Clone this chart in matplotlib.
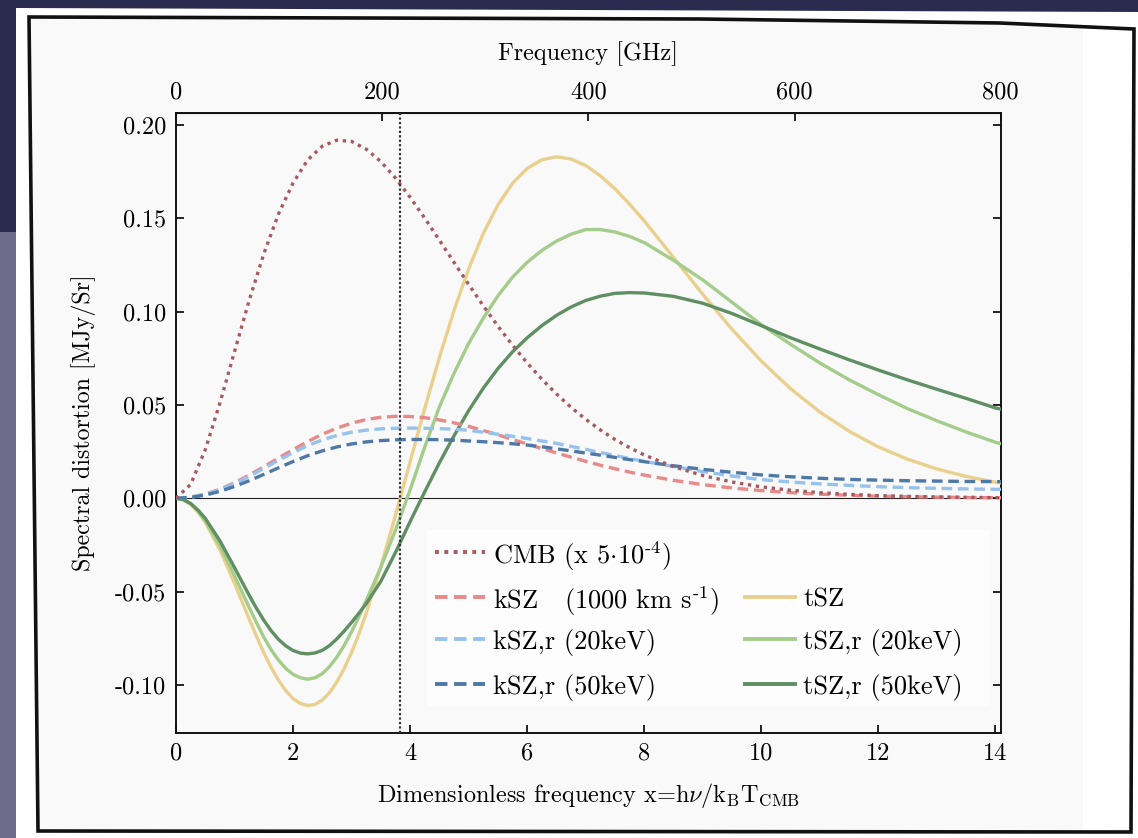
import numpy as np
import matplotlib
matplotlib.use("Agg")
import matplotlib.pyplot as plt
from matplotlib.patches import Polygon, Rectangle
from matplotlib.lines import Line2D

plt.rcParams['font.family'] = 'serif'
plt.rcParams['font.serif'] = ['cmr10']
plt.rcParams['mathtext.fontset'] = 'cm'
plt.rcParams['axes.unicode_minus'] = False
plt.rcParams['axes.formatter.use_mathtext'] = True

# ---------------- data ----------------
x = [0, 0.25, 0.5, 0.75, 1, 1.25, 1.5, 1.75, 2, 2.25, 2.5, 2.75, 3, 3.25, 3.5, 3.75,
     4, 4.25, 4.5, 4.75, 5, 5.25, 5.5, 5.75, 6, 6.25, 6.5, 6.75, 7, 7.25, 7.5, 7.75,
     8, 8.5, 9, 9.5, 10, 10.5, 11, 11.5, 12, 12.5, 13, 13.5, 14, 14.1]

cmb = [0, 0.0074, 0.0260, 0.0510, 0.0786, 0.1060, 0.1310, 0.1523, 0.1690, 0.1813, 0.1887, 0.1919,
       0.1912, 0.1871, 0.1804, 0.1716, 0.1613, 0.1501, 0.1383, 0.1264, 0.1146, 0.1031, 0.0922, 0.0820,
       0.0725, 0.0638, 0.0559, 0.0487, 0.0423, 0.0366, 0.0315, 0.0271, 0.0232, 0.0169, 0.0122, 0.0087,
       0.0061, 0.0043, 0.0030, 0.0021, 0.0014, 0.0010, 0.0007, 0.0005, 0.0003, 0.0003]

ksz = [0, 0.0006, 0.0022, 0.0048, 0.0083, 0.0124, 0.0169, 0.0215, 0.0261, 0.0304, 0.0343, 0.0376,
       0.0402, 0.0422, 0.0434, 0.0439, 0.0438, 0.0432, 0.0420, 0.0404, 0.0385, 0.0363, 0.0340, 0.0315,
       0.0291, 0.0266, 0.0243, 0.0220, 0.0198, 0.0177, 0.0158, 0.0140, 0.0124, 0.0096, 0.0073, 0.0055,
       0.0041, 0.0030, 0.0022, 0.0016, 0.0011, 0.0008, 0.0006, 0.0004, 0.0003, 0.0003]

ksz_r20 = [0, 0.0005, 0.0021, 0.0046, 0.0078, 0.0117, 0.0160, 0.0203, 0.0245, 0.0282, 0.0313, 0.0337,
           0.0354, 0.0365, 0.0372, 0.0375, 0.0376, 0.0375, 0.0373, 0.0370, 0.0364, 0.0354, 0.0343, 0.0332,
           0.0320, 0.0307, 0.0294, 0.0278, 0.0262, 0.0245, 0.0229, 0.0213, 0.0198, 0.0170, 0.0143, 0.0119,
           0.0100, 0.0087, 0.0077, 0.0069, 0.0062, 0.0057, 0.0053, 0.0050, 0.0048, 0.0048]

ksz_r50 = [0, 0.0004, 0.0017, 0.0037, 0.0063, 0.0094, 0.0128, 0.0163, 0.0197, 0.0228, 0.0254, 0.0275,
           0.0291, 0.0302, 0.0309, 0.0313, 0.0315, 0.0315, 0.0314, 0.0311, 0.0307, 0.0303, 0.0298, 0.0292,
           0.0285, 0.0276, 0.0265, 0.0254, 0.0242, 0.0231, 0.0219, 0.0207, 0.0196, 0.0174, 0.0155, 0.0139,
           0.0125, 0.0115, 0.0107, 0.0101, 0.0097, 0.0094, 0.0092, 0.0090, 0.0089, 0.0089]

# tSZ family is sampled more finely through the trough
x_t = [0, 0.125, 0.25, 0.375, 0.5, 0.75, 1, 1.25, 1.375, 1.5, 1.625, 1.75, 1.875, 2, 2.125, 2.25, 2.375, 2.5,
       2.625, 2.75, 2.875, 3, 3.125, 3.25, 3.5, 3.75,
       4, 4.25, 4.5, 4.75, 5, 5.25, 5.5, 5.75, 6, 6.25, 6.5, 6.75, 7, 7.25, 7.5, 7.75,
       8, 8.5, 9, 9.5, 10, 10.5, 11, 11.5, 12, 12.5, 13, 13.5, 14, 14.1]

tsz = [0, -0.0008, -0.0033, -0.0074, -0.0129, -0.0276, -0.0456, -0.0647, -0.0740, -0.0828, -0.0907, -0.0975, -0.1031,
       -0.1074, -0.1100, -0.1111, -0.1105, -0.1081, -0.1041, -0.0984, -0.0912, -0.0826, -0.0727,
       -0.0616, -0.0366, -0.0091,
       0.0196, 0.0482, 0.0755, 0.1007, 0.1230, 0.1419, 0.1572, 0.1688, 0.1768, 0.1814, 0.1830, 0.1818,
       0.1783, 0.1728, 0.1658, 0.1576, 0.1486, 0.1290, 0.1093, 0.0905, 0.0735, 0.0587, 0.0462, 0.0359,
       0.0275, 0.0209, 0.0157, 0.0117, 0.0086, 0.0082]

tsz_r20 = [0, -0.0008, -0.0031, -0.0069, -0.0120, -0.0254, -0.0416, -0.0585, -0.0666, -0.0745, -0.0812, -0.0867, -0.0912,
           -0.0944, -0.0962, -0.0970, -0.0962, -0.0940, -0.0902, -0.0850, -0.0788, -0.0715, -0.0635,
           -0.0548, -0.0370, -0.0170,
           0.0045, 0.0275, 0.0490, 0.0670, 0.0830, 0.0965, 0.1085, 0.1185, 0.1265, 0.1328, 0.1378, 0.1415,
           0.1440, 0.1440, 0.1427, 0.1403, 0.1370, 0.1275, 0.1170, 0.1050, 0.0930, 0.0825, 0.0725, 0.0635,
           0.0555, 0.0480, 0.0415, 0.0355, 0.0300, 0.0292]

tsz_r50 = [0, -0.0007, -0.0028, -0.0063, -0.0108, -0.0228, -0.0372, -0.0520, -0.0590, -0.0654, -0.0710, -0.0756, -0.0791,
           -0.0816, -0.0830, -0.0834, -0.0829, -0.0815, -0.0789, -0.0753, -0.0711, -0.0665, -0.0616,
           -0.0565, -0.0445, -0.0290,
           -0.0125, 0.0035, 0.0190, 0.0335, 0.0470, 0.0590, 0.0695, 0.0785, 0.0860, 0.0925, 0.0980, 0.1025,
           0.1060, 0.1083, 0.1098, 0.1102, 0.1100, 0.1082, 0.1045, 0.0990, 0.0925, 0.0860, 0.0800, 0.0742,
           0.0687, 0.0634, 0.0584, 0.0535, 0.0484, 0.0477]

x_cross = 3.83          # vertical dotted marker
ghz_per_x = 56.78       # h nu / k T_CMB conversion
ghz_ticks = [0, 200, 400, 600, 800]
x_ticks = [0, 2, 4, 6, 8, 10, 12, 14]
y_ticks = [-0.10, -0.05, 0.00, 0.05, 0.10, 0.15, 0.20]
y_ticklabels = ['-0.10', '-0.05', '0.00', '0.05', '0.10', '0.15', '0.20']

labels = {
    'cmb': r'CMB (x 5$\cdot$10$^{\text{-}4}$)',
    'ksz': r'kSZ   (1000 km s$^{\text{-}1}$)',
    'kszr20': 'kSZ,r (20keV)',
    'kszr50': 'kSZ,r (50keV)',
    'tsz': 'tSZ',
    'tszr20': 'tSZ,r (20keV)',
    'tszr50': 'tSZ,r (50keV)',
}

colors = {
    'cmb': '#a65a5e', 'ksz': '#e8898a', 'kszr20': '#96c2ee', 'kszr50': '#4e79a7',
    'tsz': '#e9d08c', 'tszr20': '#a4cc8b', 'tszr50': '#5f8f62',
}

# ---------------- figure & decoration ----------------
W, H = 1138, 838
fig = plt.figure(figsize=(W / 100, H / 100), dpi=100)
fig.patch.set_facecolor('#2b2b4f')

def P(px, py):
    return (px / W, 1 - py / H)

fig.patches.append(Polygon([P(0, 232), P(16, 232), P(16, 838), P(0, 838)], closed=True,
                           transform=fig.transFigure, facecolor='#6c6c88', edgecolor='none', zorder=0))
fig.patches.append(Polygon([P(16, 8), P(1138, 12), P(1138, 838), P(16, 838)], closed=True,
                           transform=fig.transFigure, facecolor='#ffffff', edgecolor='none', zorder=1))
panel = [P(29, 17), P(700, 19), P(1000, 23), P(1134, 29), P(1131, 832), P(38, 831)]
fig.patches.append(Polygon(panel, closed=True, transform=fig.transFigure,
                           facecolor='#f9f9f9', edgecolor='none', zorder=2))
fig.patches.append(Polygon([P(1083, 25), P(1133, 29), P(1130, 831), P(1083, 831)], closed=True,
                           transform=fig.transFigure, facecolor='#ffffff', edgecolor='none', zorder=3))
fig.patches.append(Polygon(panel, closed=True, transform=fig.transFigure,
                           facecolor='none', edgecolor='#111111', linewidth=2.6, zorder=4))

# ---------------- axes ----------------
ax = fig.add_axes([176 / W, 1 - 732.8 / H, (1000.7 - 176) / W, (732.8 - 113.3) / H])
ax.set_facecolor('#f9f9f9')
ax.set_zorder(5)

lw = 2.4
dot = (0, (1.0, 1.4))
dash = (0, (3.2, 1.7))
ax.axhline(0, color='#222222', lw=0.8, zorder=1)
ax.axvline(x_cross, color='#333333', lw=1.6, ls=(0, (1, 1)), zorder=6)

ax.plot(x_t, tsz, color=colors['tsz'], lw=lw, label=labels['tsz'], zorder=3)
ax.plot(x_t, tsz_r20, color=colors['tszr20'], lw=lw, label=labels['tszr20'], zorder=3)
ax.plot(x_t, tsz_r50, color=colors['tszr50'], lw=lw, label=labels['tszr50'], zorder=3)
ax.plot(x, ksz, color=colors['ksz'], lw=lw, ls=dash, label=labels['ksz'], zorder=4)
ax.plot(x, ksz_r20, color=colors['kszr20'], lw=lw, ls=dash, label=labels['kszr20'], zorder=4)
ax.plot(x, ksz_r50, color=colors['kszr50'], lw=lw, ls=dash, label=labels['kszr50'], zorder=4)
ax.plot(x, cmb, color=colors['cmb'], lw=lw, ls=dot, label=labels['cmb'], zorder=5)

ax.set_xlim(0, 800 / ghz_per_x)
ax.set_ylim(-0.1257, 0.2063)
ax.set_xticks(x_ticks)
ax.set_xticklabels([str(t) for t in x_ticks])
ax.set_yticks(y_ticks)
ax.set_yticklabels(y_ticklabels)
ax.tick_params(axis='both', which='major', direction='in', length=6, width=1.2,
               labelsize=17.5, pad=7, right=True, top=False)
for s in ax.spines.values():
    s.set_linewidth(1.4)
    s.set_color('#111111')

ax.set_xlabel(r'Dimensionless frequency x=h$\nu$/k$_{\rm B}$T$_{\rm CMB}$', fontsize=17.5, labelpad=12)
ax.set_ylabel('Spectral distortion [MJy/Sr]', fontsize=17.2, labelpad=14)

sec = ax.secondary_xaxis('top', functions=(lambda v: v * ghz_per_x, lambda v: v / ghz_per_x))
sec.set_xticks(ghz_ticks)
sec.set_xticklabels([str(t) for t in ghz_ticks])
sec.tick_params(direction='in', length=6, width=1.2, labelsize=17.5, pad=7)
sec.set_xlabel('Frequency [GHz]', fontsize=17.5, labelpad=15)

# ---------------- legend (two aligned columns, drawn in axes coords) ----------------
def AX(px, py):
    return ((px - 176) / 824.7, (732.8 - py) / 619.5)

x0, y0 = AX(427, 530)
x1, y1 = AX(990, 706)
ax.add_patch(Rectangle((x0, y1), x1 - x0, y0 - y1, transform=ax.transAxes,
                       facecolor='#fdfdfd', edgecolor='none', zorder=7))

legend_rows = [
    # (key, linestyle, handle_x_start_px, row_center_py)
    ('cmb', dot, 435, 552),
    ('ksz', dash, 435, 597),
    ('kszr20', dash, 435, 639),
    ('kszr50', dash, 435, 684),
    ('tsz', '-', 745, 597),
    ('tszr20', '-', 745, 639),
    ('tszr50', '-', 745, 684),
]
for key, ls, hx, hy in legend_rows:
    a0 = AX(hx, hy)
    a1 = AX(hx + 50, hy)
    ax.add_line(Line2D([a0[0], a1[0]], [a0[1], a1[1]], transform=ax.transAxes,
                       color=colors[key], lw=2.8, ls=ls, zorder=8, clip_on=False))
    t = AX(hx + 58, hy)
    ax.text(t[0], t[1], labels[key], transform=ax.transAxes, fontsize=19,
            va='center_baseline', ha='left', zorder=9)

fig.savefig('out.png', dpi=100, facecolor=fig.get_facecolor())
